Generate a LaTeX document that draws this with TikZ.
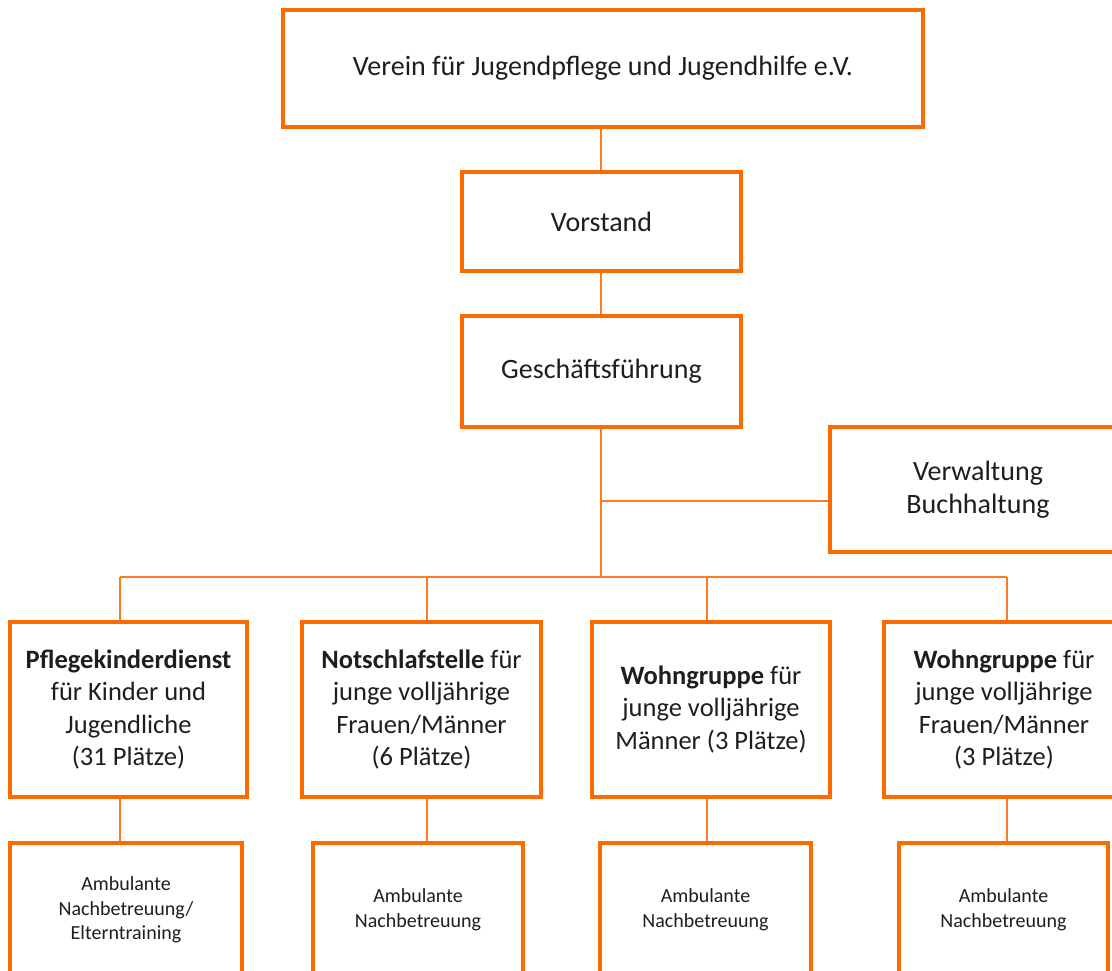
\documentclass[tikz,border=0pt]{standalone}
\usepackage{fontspec}
\setmainfont{Carlito}
\usepackage{tikz}
\usetikzlibrary{positioning,calc}
\definecolor{orgbox}{HTML}{FF6A00}
\definecolor{orgline}{HTML}{FF7B22}
\definecolor{ink}{HTML}{1E1E1E}
\tikzset{
  box/.style={rectangle, draw=orgbox, fill=white, line width=4.5pt, align=center,
              inner sep=0pt, text=ink, font=\fontsize{28}{33.5}\selectfont},
  unitbox/.style={box, minimum height=175pt, font=\fontsize{26.5}{32.5}\selectfont},
  carebox/.style={box, minimum height=134pt, font=\fontsize{20}{24.5}\selectfont},
  link/.style={draw=orgline, line width=2pt}
}
\begin{document}
\begin{tikzpicture}[x=1pt, y=-1pt]
  \useasboundingbox (0,0) rectangle (1112,971);
  % leitung
  \node[box, minimum width=640pt, minimum height=117pt] (verein) at (603,68.5)
    {Verein für Jugendpflege und Jugendhilfe e.V.};
  \node[box, minimum width=279pt, minimum height=99pt] (vorstand) at (601.5,221.5) {Vorstand};
  \node[box, minimum width=279pt, minimum height=111pt] (gf) at (601.5,371.5) {Geschäftsführung};
  \node[box, minimum width=296pt, minimum height=125pt] (verw) at (978,489.5) {Verwaltung\\Buchhaltung};

  % bereiche
  \node[unitbox, minimum width=237pt] (pkd) at (128.5,709.5)
    {\textbf{Pflegekinderdienst}\\für Kinder und\\Jugendliche\\(31 Plätze)};
  \node[unitbox, minimum width=239pt] (nsst) at (421.5,709.5)
    {\textbf{Notschlafstelle} für\\junge volljährige\\Frauen/Männer\\(6 Plätze)};
  \node[unitbox, minimum width=238pt] (wgm) at (711,709.5)
    {\textbf{Wohngruppe} für\\junge volljährige\\Männer (3 Plätze)};
  \node[unitbox, minimum width=240pt] (wgfm) at (1004,709.5)
    {\textbf{Wohngruppe} für\\junge volljährige\\Frauen/Männer\\(3 Plätze)};

  % nachbetreuung
  \node[carebox, minimum width=232pt] (amb1) at (126,910) {Ambulante\\Nachbetreuung/\\Elterntraining};
  \node[carebox, minimum width=210pt] (amb2) at (418,910) {Ambulante\\Nachbetreuung};
  \node[carebox, minimum width=211pt] (amb3) at (705.5,910) {Ambulante\\Nachbetreuung};
  \node[carebox, minimum width=209pt] (amb4) at (1003.5,910) {Ambulante\\Nachbetreuung};

  \coordinate (hub) at (601,577);
  \coordinate (side) at (601,501);
  \coordinate (c1) at (120,577);
  \coordinate (c2) at (427,577);
  \coordinate (c3) at (707,577);
  \coordinate (c4) at (1007,577);

  \draw[link] (verein.south -| hub) -- (vorstand.north -| hub);
  \draw[link] (vorstand.south -| hub) -- (gf.north -| hub);
  \draw[link] (gf.south -| hub) -- (hub);
  \draw[link] (side) -- (side -| verw.west);
  \draw[link] (c1) -- (c4);
  \foreach \c/\u/\a in {c1/pkd/amb1, c2/nsst/amb2, c3/wgm/amb3, c4/wgfm/amb4} {
    \draw[link] (\c) -- (\c |- \u.north);
    \draw[link] (\c |- \u.south) -- (\c |- \a.north);
  }
\end{tikzpicture}
\end{document}
